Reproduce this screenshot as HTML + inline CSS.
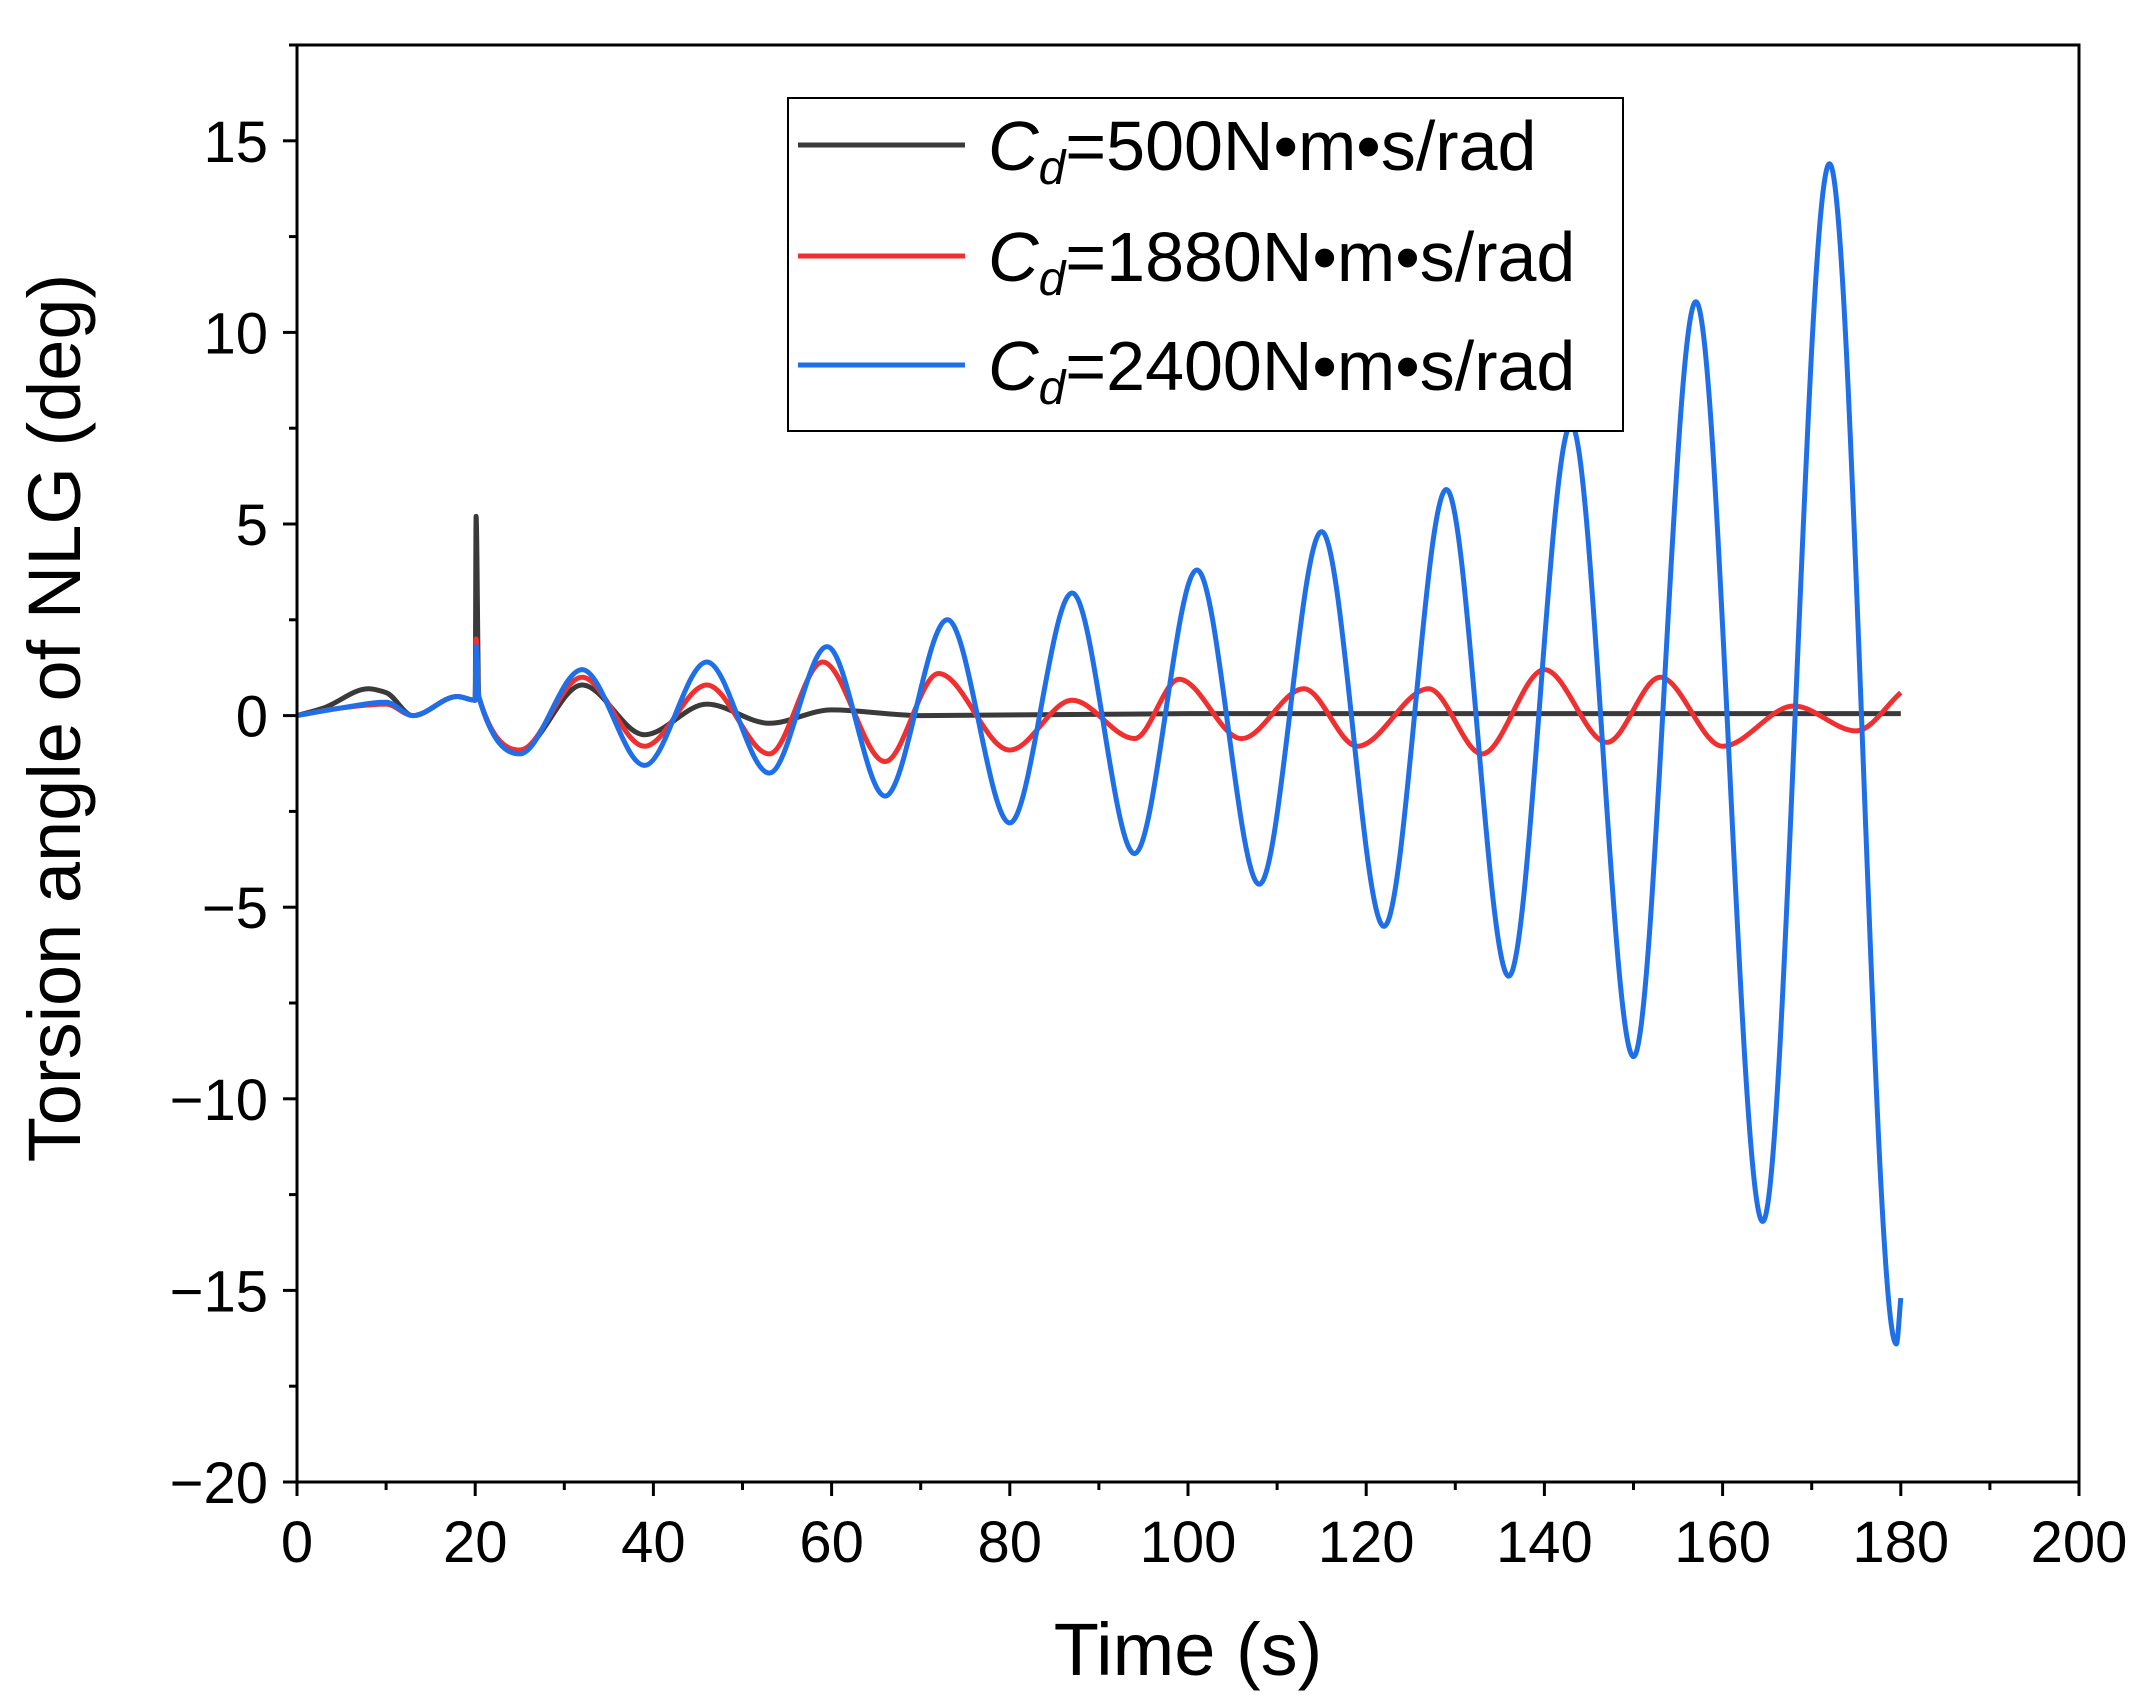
<!DOCTYPE html>
<html><head><meta charset="utf-8"><style>
html,body{margin:0;padding:0;background:#fff;}
svg{display:block;font-family:"Liberation Sans",Arial,sans-serif;}
</style></head><body>
<svg id="chart" width="2138" height="1704" viewBox="0 0 2138 1704">
<g id="grid-layer"></g>
<g id="series-layer"></g>
<rect x="297" y="45" width="1782" height="1437" fill="none" stroke="#000" stroke-width="3"/>
<g>
<rect x="788" y="98" width="835" height="333" fill="#fff" stroke="#000" stroke-width="2"/>
<line x1="798" y1="145" x2="965" y2="145" stroke="#3a3a3a" stroke-width="5"/>
<line x1="798" y1="256" x2="965" y2="256" stroke="#f03030" stroke-width="5"/>
<line x1="798" y1="365" x2="965" y2="365" stroke="#1f6fe8" stroke-width="5"/>
<text x="988" y="170" font-size="70"><tspan font-style="italic">C</tspan><tspan font-style="italic" font-size="48" dy="14">d</tspan><tspan dy="-14">=500N•m•s/rad</tspan></text>
<text x="988" y="281" font-size="70"><tspan font-style="italic">C</tspan><tspan font-style="italic" font-size="48" dy="14">d</tspan><tspan dy="-14">=1880N•m•s/rad</tspan></text>
<text x="988" y="390" font-size="70"><tspan font-style="italic">C</tspan><tspan font-style="italic" font-size="48" dy="14">d</tspan><tspan dy="-14">=2400N•m•s/rad</tspan></text>
</g>
<text x="1188" y="1675" font-size="74" text-anchor="middle">Time (s)</text>
<text transform="translate(80,718) rotate(-90)" font-size="74" text-anchor="middle">Torsion angle of NLG (deg)</text>
</svg>
<script>
const xTicks=[0,20,40,60,80,100,120,140,160,180,200];
const yTicks=[-20,-15,-10,-5,0,5,10,15];
const blackT=[0,3,8,10,13,18,20,20.1,20.4,25,32,39,46,53,60,70,100,140,180];
const blackV=[0,0.2,0.7,0.6,0,0.5,0.4,5.2,0.5,-0.9,0.8,-0.5,0.3,-0.2,0.15,0,0.05,0.05,0.05];
const redT=[0,5,10,13,18,20,20.1,20.4,25,32,39,46,53,59,66,72,80,87,94,99,106,113,119,127,133,140,147,153,160,168,175,180];
const redV=[0,0.2,0.3,0,0.5,0.4,2.0,0.5,-0.9,1.0,-0.8,0.8,-1.0,1.4,-1.2,1.1,-0.9,0.4,-0.6,0.95,-0.6,0.7,-0.8,0.7,-1.0,1.2,-0.7,1.0,-0.8,0.25,-0.4,0.6];
const blueT=[0,5,10,13,18,20,20.1,20.4,25,32,39,46,53,59.5,66,73,80,87,94,101,108,115,122,129,136,143,150,157,164.5,172,179.5,180];
const blueV=[0,0.2,0.35,0,0.5,0.4,1.8,0.5,-1.0,1.2,-1.3,1.4,-1.5,1.8,-2.1,2.5,-2.8,3.2,-3.6,3.8,-4.4,4.8,-5.5,5.9,-6.8,7.6,-8.9,10.8,-13.2,14.4,-16.4,-15.2];
const NS='http://www.w3.org/2000/svg';
const X=t=>297+t*1782/200;
const Y=v=>45+(17.5-v)*1437/37.5;
function mk(tag,attrs,parent){const e=document.createElementNS(NS,tag);for(const k in attrs)e.setAttribute(k,attrs[k]);parent.appendChild(e);return e;}
const ax=document.getElementById('grid-layer');
xTicks.forEach((t,i)=>{
  const l=mk('line',{x1:X(t),x2:X(t),y1:1482,y2:1496,stroke:'#000','stroke-width':3},ax);
  
  
  const tx=mk('text',{x:X(t),y:1562,'font-size':58,'text-anchor':'middle'},ax);
  tx.textContent=t;
  
  
  if(i<xTicks.length-1){const m=mk('line',{x1:X(t+10),x2:X(t+10),y1:1482,y2:1490,stroke:'#000','stroke-width':3},ax);
  
  }
});
yTicks.forEach((v,i)=>{
  const l=mk('line',{x1:283,x2:297,y1:Y(v),y2:Y(v),stroke:'#000','stroke-width':3},ax);
  
  
  const tx=mk('text',{x:268,y:Y(v)+21,'font-size':58,'text-anchor':'end'},ax);
  tx.textContent=v<0?'\u2212'+(-v):v;
  
  
  const m=mk('line',{x1:289,x2:297,y1:Y(v+2.5),y2:Y(v+2.5),stroke:'#000','stroke-width':3},ax);
  
  
});
function monoPath(ts,vs){
  const xs=ts.map(X),ys=vs.map(Y),n=xs.length,m=[],d=[];
  for(let i=0;i<n-1;i++)d.push((ys[i+1]-ys[i])/(xs[i+1]-xs[i]));
  for(let i=0;i<n;i++){
    if(i===0)m.push(d[0]);else if(i===n-1)m.push(d[n-2]);
    else m.push(d[i-1]*d[i]<=0?0:(3*(xs[i+1]-xs[i-1]))/((2*xs[i+1]-xs[i]-xs[i-1])/d[i-1]+(xs[i+1]+xs[i]-2*xs[i-1])/d[i]));
  }
  let p='M'+xs[0]+','+ys[0];
  for(let i=0;i<n-1;i++){const h=(xs[i+1]-xs[i])/3;
    p+='C'+(xs[i]+h)+','+(ys[i]+m[i]*h)+' '+(xs[i+1]-h)+','+(ys[i+1]-m[i+1]*h)+' '+xs[i+1]+','+ys[i+1];}
  return p;
}
const sl=document.getElementById('series-layer');
const b=mk('path',{d:monoPath(blackT,blackV),fill:'none',stroke:'#3a3a3a','stroke-width':5},sl);


const r=mk('path',{d:monoPath(redT,redV),fill:'none',stroke:'#f03030','stroke-width':5},sl);


const bl=mk('path',{d:monoPath(blueT,blueV),fill:'none',stroke:'#1f6fe8','stroke-width':5},sl);


</script>
</body></html>
